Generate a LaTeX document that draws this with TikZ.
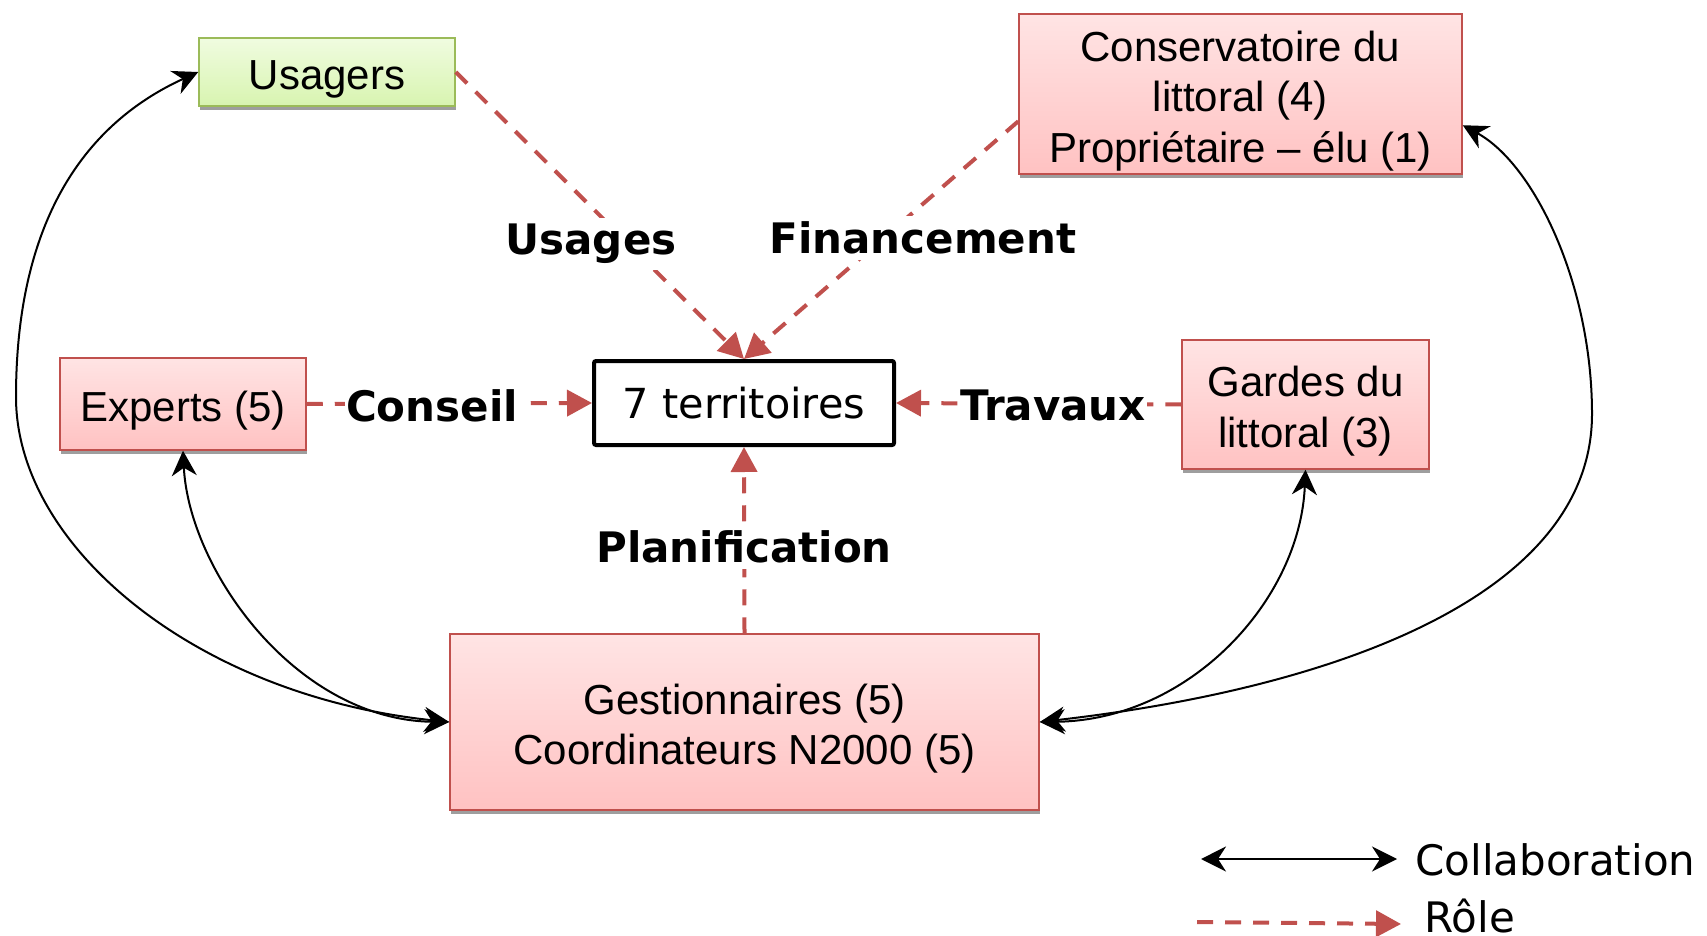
\documentclass[tikz,border=0pt]{standalone}
\usepackage{fontspec}
\setmainfont{Liberation Sans}
\newfontfamily\dejavu{DejaVu Sans}
\usetikzlibrary{arrows.meta,shadows}
\definecolor{rolered}{RGB}{192,80,77}
\definecolor{redtop}{RGB}{255,228,228}
\definecolor{redbot}{RGB}{255,194,194}
\definecolor{greentop}{RGB}{240,252,224}
\definecolor{greenbot}{RGB}{216,244,176}
\definecolor{greenline}{RGB}{155,187,89}
\newcommand\boxstrut{\rule{0pt}{22pt}}
\tikzset{
  actor/.style={draw=rolered, line width=0.75pt, top color=redtop, bottom color=redbot,
    align=center, inner sep=0pt, font=\fontsize{21}{25.3}\selectfont,
    drop shadow={shadow xshift=0.6pt, shadow yshift=-2.2pt, fill=black!38, opacity=1}},
  user/.style={actor, draw=greenline, top color=greentop, bottom color=greenbot},
  terrbox/.style={draw, line width=2pt, rounded corners=1pt, fill=white,
    font=\dejavu\fontsize{20.7}{25}\selectfont},
  lbl/.style={fill=white, inner xsep=0.5pt, inner ysep=3pt,
    font=\dejavu\bfseries\fontsize{21}{25}\selectfont},
  legtxt/.style={anchor=west, inner sep=0pt, font=\dejavu\fontsize{21}{25}\selectfont},
  role/.style={draw=rolered, line width=2pt, dash pattern=on 8pt off 6pt,
    -{Triangle[length=12.5pt,width=13pt]}},
  collab/.style={line width=1pt,
    {Stealth[length=12.5pt,width=12.5pt,inset=4pt]}-{Stealth[length=12.5pt,width=12.5pt,inset=4pt]}}
}
\begin{document}
\begin{tikzpicture}[x=0.5pt,y=-0.5pt]
  \useasboundingbox (0,0) rectangle (1707,936);
  \node[user, minimum width=128pt, minimum height=34pt] (usagers) at (327,72) {\boxstrut Usagers};
  \node[actor, minimum width=221.5pt, minimum height=80pt] (conserv) at (1240.5,94)
    {\boxstrut Conservatoire du\\littoral (4)\\Propriétaire – élu (1)};
  \node[terrbox, minimum width=150pt, minimum height=42pt] (terr) at (744,403) {7 territoires};
  \node[actor, minimum width=123pt, minimum height=46pt] (experts) at (183,404) {\boxstrut Experts (5)};
  \node[actor, minimum width=123.5pt, minimum height=64.5pt] (gardes) at (1305.5,404.5)
    {\boxstrut Gardes du\\littoral (3)};
  \node[actor, minimum width=294.5pt, minimum height=88pt] (gestion) at (744.5,722)
    {\boxstrut Gestionnaires (5)\\Coordinateurs N2000 (5)};

  \draw[role] (usagers.east) -- (terr.north);
  \draw[role] (conserv.187) -- (terr.north);
  \draw[role] (experts.east) -- (terr.west);
  \draw[role] (gardes.west) -- (terr.east);
  \draw[role] (gestion.north) -- (terr.south);

  \node[lbl] (usages) at (591,244) {Usages};
  \node[lbl] (financement) at (923,238) {Financement};
  \node[lbl] (conseil) at (432,406) {Conseil};
  \node[lbl] (travaux) at (1053,405) {Travaux};
  \node[lbl] (planif) at (744,547) {Planification};

  \draw[collab] (usagers.west) .. controls (80,126) and (16,227) .. (16,397)
    .. controls (16,547) and (197,696) .. (gestion.west);
  \draw[collab] (experts.south) .. controls (189,570) and (296,720) .. (gestion.west);
  \draw[collab] (gardes.south) .. controls (1300,600) and (1190,720) .. (gestion.east);
  \draw[collab] (conserv.-8) .. controls (1534,164) and (1592,284) .. (1592,414)
    .. controls (1592,594) and (1339,688) .. (gestion.east);

  \coordinate (collabA) at (1201,859);
  \coordinate (collabB) at (1397,859);
  \draw[collab] (collabA) -- (collabB);
  \node[legtxt] (collabtxt) at (1415,860) {Collaboration};
  \coordinate (roleA) at (1197,922);
  \coordinate (roleB) at (1401,924);
  \draw[role] (roleA) -- (roleB);
  \node[legtxt] (roletxt) at (1424,916) {Rôle};
\end{tikzpicture}
\end{document}
